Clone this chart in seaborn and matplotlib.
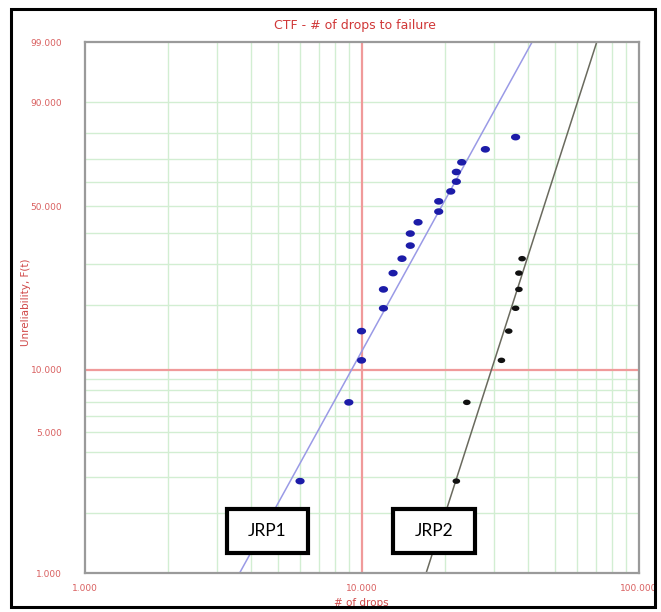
import numpy as np
import matplotlib
matplotlib.use("Agg")
import matplotlib.pyplot as plt
import seaborn as sns
import pandas as pd
from matplotlib.patches import Rectangle
from matplotlib.path import Path

# ---------------- data ----------------
jrp1_drops = [6, 9, 10, 10, 12, 12, 13, 14, 15, 15, 16, 19, 19, 21, 22, 22, 23, 28, 36]
jrp1_unrel = [2.87, 6.97, 11.07, 15.16, 19.26, 23.36, 27.46, 31.56, 35.66, 39.75,
              43.85, 47.95, 52.05, 56.15, 60.25, 64.34, 68.44, 73.8, 78.6]
jrp2_drops = [22, 24, 32, 34, 36, 37, 37, 38]
jrp2_unrel = [2.87, 6.97, 11.07, 15.16, 19.26, 23.36, 27.46, 31.56]

# Weibull fit parameters (shape beta, scale eta)
jrp1_beta, jrp1_eta = 2.52, 22.5
jrp2_beta, jrp2_eta = 4.32, 49.6

y_ticks = [1, 5, 10, 50, 90, 99]
y_tick_labels = ["1.000", "5.000", "10.000", "50.000", "90.000", "99.000"]
x_ticks = [1, 10, 100]
x_tick_labels = ["1.000", "10.000", "100.000"]
y_grid = [2, 3, 4, 5, 6, 7, 8, 9, 20, 30, 40, 50, 60, 70, 80, 90]
x_grid = [2, 3, 4, 5, 6, 7, 8, 9, 20, 30, 40, 50, 60, 70, 80, 90]
fit_probs = [0.5, 99.9]

title = "CTF - # of drops to failure"
xlabel = "# of drops"
ylabel = "Unreliability, F(t)"

# ---------------- style ----------------
sns.set_style("white")
plt.rcParams["font.family"] = ["DejaVu Sans"]

W, H = 661, 612
fig = plt.figure(figsize=(W / 100, H / 100), dpi=100)
L, R, T, B = 84.5, 638.5, 42.3, 573.3
ax = fig.add_axes([L / W, 1 - B / H, (R - L) / W, (B - T) / H])


def fwd(p):
    p = np.clip(np.asarray(p, dtype=float), 1e-6, 100 - 1e-6)
    return np.log(-np.log(1 - p / 100.0))


def inv(w):
    return 100.0 * (1 - np.exp(-np.exp(w)))


ax.set_xscale("log")
ax.set_yscale("function", functions=(fwd, inv))
ax.set_xlim(1, 100)
ax.set_ylim(1, 99)

grid_green = "#d2eed2"
for g in y_grid:
    ax.axhline(g, color=grid_green, lw=1.0, zorder=0)
for g in x_grid:
    ax.axvline(g, color=grid_green, lw=1.0, zorder=0)
ax.axhline(10, color="#f09a9a", lw=1.6, zorder=1)
ax.axvline(10, color="#f09a9a", lw=1.6, zorder=1)

# fitted lines
def fit_frame(beta, eta):
    p = np.linspace(fit_probs[0], fit_probs[1], 200)
    x = eta * (-np.log(1 - p / 100.0)) ** (1.0 / beta)
    return pd.DataFrame({"x": x, "p": p})

f1 = fit_frame(jrp1_beta, jrp1_eta)
f2 = fit_frame(jrp2_beta, jrp2_eta)
sns.lineplot(data=f1, x="x", y="p", ax=ax, color="#9a9ae6", lw=1.1,
             sort=False, estimator=None, zorder=2)
sns.lineplot(data=f2, x="x", y="p", ax=ax, color="#6a6a5e", lw=1.1,
             sort=False, estimator=None, zorder=2)

# ellipse marker
t = np.linspace(0, 2 * np.pi, 40)
ell = Path(np.column_stack([np.cos(t), 0.72 * np.sin(t)]))

d1 = pd.DataFrame({"x": jrp1_drops, "p": jrp1_unrel})
d2 = pd.DataFrame({"x": jrp2_drops, "p": jrp2_unrel})
sns.scatterplot(data=d1, x="x", y="p", ax=ax, color="#1c1ca8", marker=ell,
                s=44, edgecolor="none", zorder=3)
sns.scatterplot(data=d2, x="x", y="p", ax=ax, color="#111111", marker=ell,
                s=30, edgecolor="none", zorder=3)

ax.set_yticks(y_ticks)
ax.set_yticklabels(y_tick_labels)
ax.set_yticks([], minor=True)
ax.set_xticks(x_ticks)
ax.set_xticklabels(x_tick_labels)
ax.set_xticks([], minor=True)
ax.tick_params(axis="both", length=0, labelsize=6.5, labelcolor="#d96060")
ax.tick_params(axis="y", pad=16)
ax.tick_params(axis="x", pad=8)
ax.set_xlabel(xlabel, color="#d04848", fontsize=7.5, labelpad=3)
ax.set_ylabel(ylabel, color="#d04848", fontsize=7.5)
ax.yaxis.set_label_coords((31 - L) / (R - L), (B - 302) / (B - T))

for side in ["left", "bottom", "top", "right"]:
    ax.spines[side].set_color("#9a9a9a")
    ax.spines[side].set_linewidth(1.6)
    ax.spines[side].set_visible(True)

fig.text(355 / W, 1 - 25 / H, title, color="#d03838", fontsize=9,
         ha="center", va="center")

# outer frame
fig.add_artist(Rectangle((10.5 / W, 1 - 607 / H), (655 - 10.5) / W, (607 - 9) / H,
                         transform=fig.transFigure, fill=False, lw=2.2,
                         edgecolor="black", zorder=10))

# annotation boxes
for label, x0, x1 in [("JRP1", 227, 308), ("JRP2", 393, 475)]:
    y0, y1 = 509, 553
    fig.add_artist(Rectangle((x0 / W, 1 - y1 / H), (x1 - x0) / W, (y1 - y0) / H,
                             transform=fig.transFigure, facecolor="white",
                             edgecolor="black", lw=3.0, zorder=11))
    fig.text((x0 + x1) / 2 / W, 1 - (y0 + y1) / 2 / H, label, fontsize=12.5,
             family=["Lato", "DejaVu Sans"], ha="center", va="center",
             color="black", zorder=12)

fig.savefig("out.png", dpi=100)
